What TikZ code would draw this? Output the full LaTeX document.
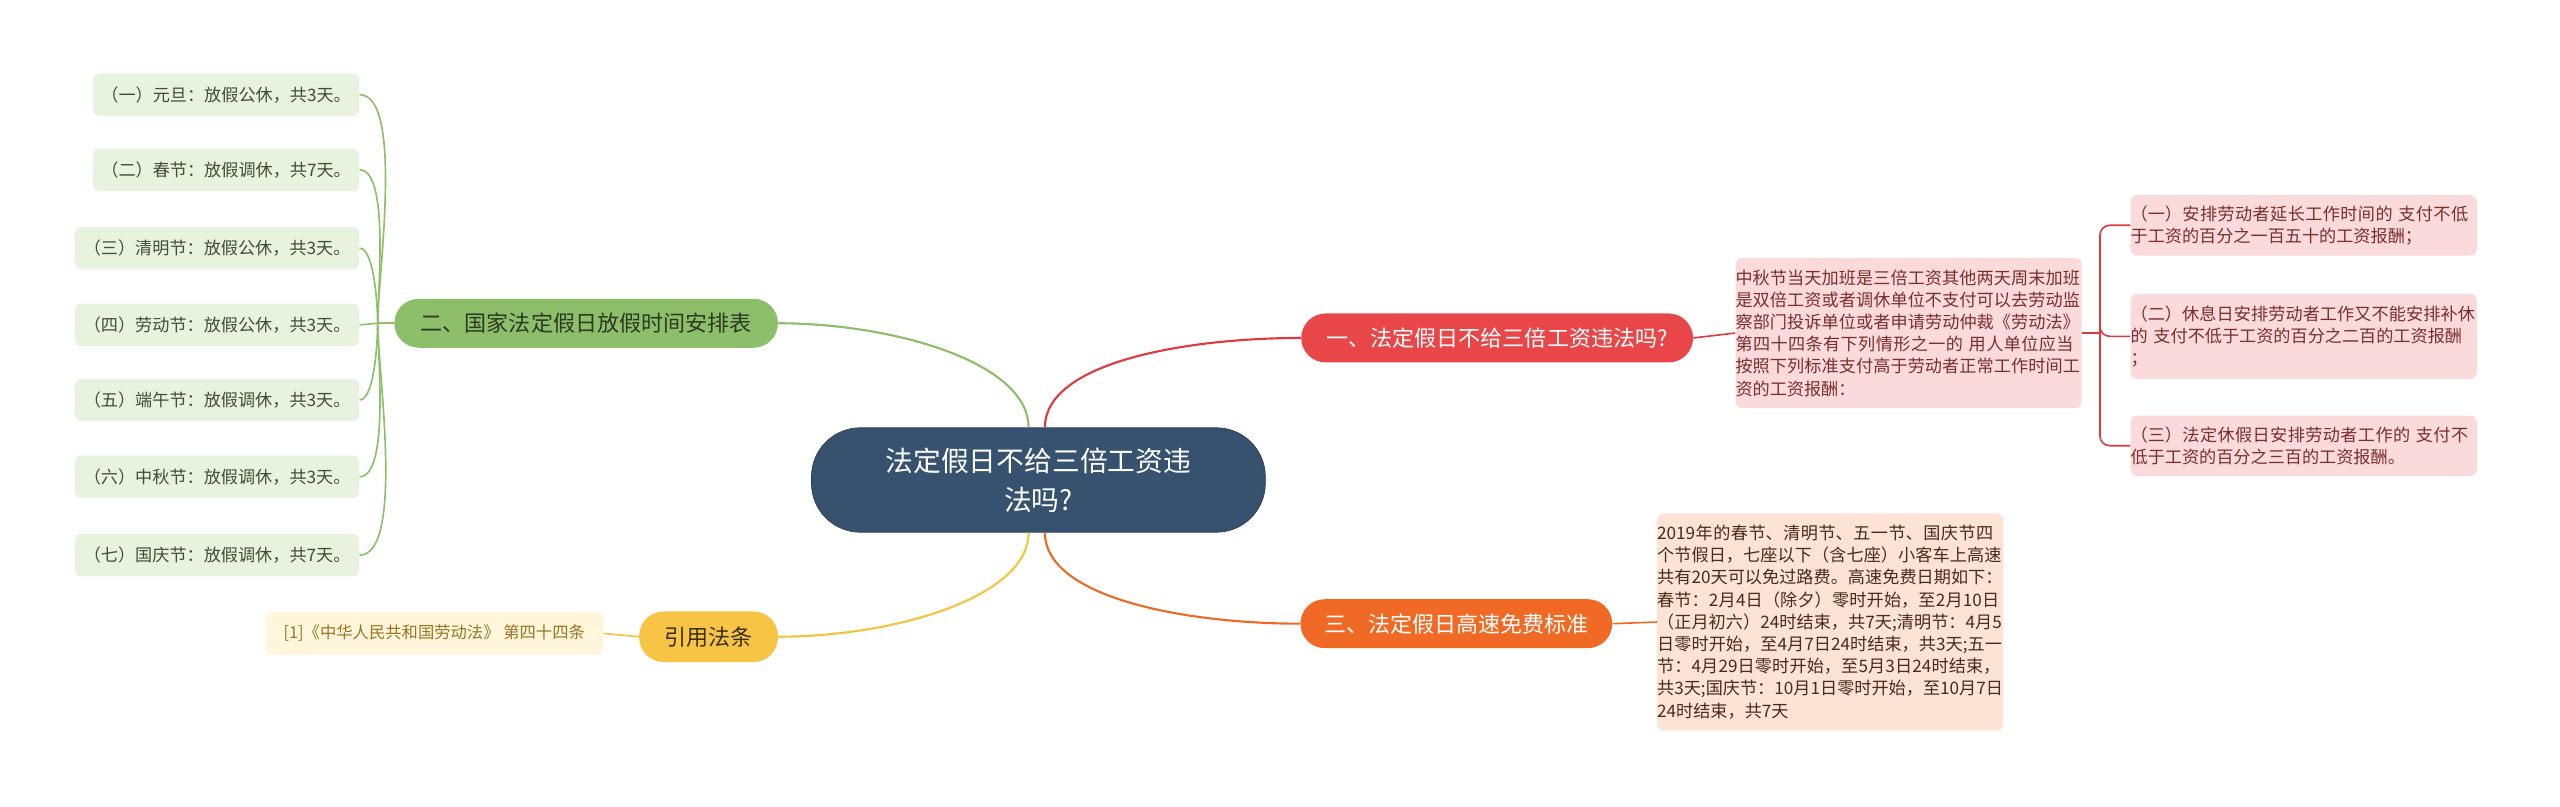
\documentclass[tikz,border=0pt]{standalone}
\usepackage{fontspec}
\setmainfont{Noto Sans CJK SC}
\XeTeXlinebreaklocale "zh"
\XeTeXlinebreakskip=0pt plus 1pt
\definecolor{leafbg}{HTML}{E7F2DF}\definecolor{leaftx}{HTML}{3E4F33}
\definecolor{gline}{HTML}{8DBE6A}\definecolor{rline}{HTML}{E0393E}
\definecolor{oline}{HTML}{EE6A24}\definecolor{yline}{HTML}{F5C242}
\definecolor{cfill}{HTML}{36526F}\definecolor{cdraw}{HTML}{2A3F56}
\definecolor{rfill}{HTML}{E84649}\definecolor{rbg}{HTML}{FADADB}\definecolor{rtx}{HTML}{7A2E2E}
\definecolor{ofill}{HTML}{F06A25}\definecolor{obg}{HTML}{FCE3D6}\definecolor{otx}{HTML}{4A2A18}
\definecolor{gtx}{HTML}{2B3A20}\definecolor{yfill}{HTML}{F8C445}\definecolor{ytx}{HTML}{3A2E10}
\definecolor{cbg}{HTML}{FFF6DC}\definecolor{ctx}{HTML}{9A7420}
\begin{document}
\begin{tikzpicture}[x=1pt,y=1pt,
  base/.style={inner sep=0pt,align=center},
  leaf/.style={base,fill=leafbg,rounded corners=4pt,minimum height=26pt,font=\fontsize{10.5}{13}\selectfont,text=leaftx},
  detail/.style={base,rounded corners=4pt,align=left,text width=212pt,font=\fontsize{10.5}{13.6}\selectfont},
  br/.style={base,rounded corners=15pt,minimum height=30pt,font=\fontsize{13.5}{16}\selectfont}]
\useasboundingbox (0,0) rectangle (1568,-494);
\node[base,fill=cfill,draw=cdraw,rounded corners=30pt,minimum width=278pt,minimum height=64pt,text=white,font=\fontsize{17}{24}\selectfont] (c) at (636,-294) {法定假日不给三倍工资违\\法吗?};
% red branch
\node[br,fill=rfill,text=white,minimum width=240pt] (r) at (917,-207) {一、法定假日不给三倍工资违法吗?};
\node[detail,fill=rbg,text=rtx,minimum height=92pt] (rd) at (1169,-204) {中秋节当天加班是三倍工资其他两天周末加班是双倍工资或者调休单位不支付可以去劳动监察部门投诉单位或者申请劳动仲裁《劳动法》第四十四条有下列情形之一的 用人单位应当按照下列标准支付高于劳动者正常工作时间工资的工资报酬：};
\node[detail,fill=rbg,text=rtx,minimum height=37pt] (r1) at (1411,-138) {（一）安排劳动者延长工作时间的 支付不低于工资的百分之一百五十的工资报酬；};
\node[detail,fill=rbg,text=rtx,minimum height=52pt] (r2) at (1411,-206) {（二）休息日安排劳动者工作又不能安排补休的 支付不低于工资的百分之二百的工资报酬\\；};
\node[detail,fill=rbg,text=rtx,minimum height=37pt] (r3) at (1411,-273) {（三）法定休假日安排劳动者工作的 支付不低于工资的百分之三百的工资报酬。};
% orange
\node[br,fill=ofill,text=white,minimum width=191pt] (o) at (892,-382) {三、法定假日高速免费标准};
\node[detail,fill=obg,text=otx,minimum height=133pt] (od) at (1121,-381) {2019年的春节、清明节、五一节、国庆节四个节假日，七座以下（含七座）小客车上高速共有20天可以免过路费。高速免费日期如下：春节：2月4日（除夕）零时开始，至2月10日（正月初六）24时结束，共7天;清明节：4月5日零时开始，至4月7日24时结束，共3天;五一节：4月29日零时开始，至5月3日24时结束，共3天;国庆节：10月1日零时开始，至10月7日24时结束，共7天};
% green
\node[br,fill=gline,text=gtx,minimum width=235pt] (g) at (359,-198) {二、国家法定假日放假时间安排表};
\node[leaf,minimum width=163pt] (l1) at (138.5,-58) {（一）元旦：放假公休，共3天。};
\node[leaf,minimum width=163pt] (l2) at (138.5,-104) {（二）春节：放假调休，共7天。};
\node[leaf,minimum width=174pt] (l3) at (133,-152) {（三）清明节：放假公休，共3天。};
\node[leaf,minimum width=174pt] (l4) at (133,-199) {（四）劳动节：放假公休，共3天。};
\node[leaf,minimum width=174pt] (l5) at (133,-245) {（五）端午节：放假调休，共3天。};
\node[leaf,minimum width=174pt] (l6) at (133,-292) {（六）中秋节：放假调休，共3天。};
\node[leaf,minimum width=174pt] (l7) at (133,-340) {（七）国庆节：放假调休，共7天。};
% yellow
\node[br,fill=yfill,text=ytx,minimum width=85pt,minimum height=31pt] (y) at (434,-390) {引用法条};
\node[base,fill=cbg,text=ctx,rounded corners=4pt,minimum width=207pt,minimum height=26pt,font=\fontsize{10}{12}\selectfont] (cit) at (266,-388) {[1]《中华人民共和国劳动法》 第四十四条};
% main connectors
\draw[gline,line width=1.3pt] ([xshift=-6pt]c.north) .. controls +(0,40) and +(70,0) .. (g.east);
\draw[yline,line width=1.3pt] ([xshift=-6pt]c.south) .. controls +(0,-40) and +(70,0) .. (y.east);
\draw[rline,line width=1.3pt] ([xshift=4pt]c.north) .. controls +(0,40) and +(-70,0) .. (r.west);
\draw[oline,line width=1.3pt] ([xshift=4pt]c.south) .. controls +(0,-40) and +(-70,0) .. (o.west);
\draw[rline,line width=1pt] (r.east) -- (rd.west);
\draw[oline,line width=1pt] (o.east) -- (od.west);
\draw[yline,line width=1pt] (y.west) -- (cit.east);
% green bracket
\coordinate (gb) at ([xshift=-10pt]g.west);
\draw[gline,line width=1pt] (g.west) -- (gb);
\foreach \l in {l1,l2,l3}{\draw[gline,line width=1pt] (gb) to[out=90,in=0,looseness=0.5] (\l.east);}
\foreach \l in {l5,l6,l7}{\draw[gline,line width=1pt] (gb) to[out=-90,in=0,looseness=0.5] (\l.east);}
\draw[gline,line width=1pt] (gb) -- (l4.east);
% red bracket
\coordinate (rb) at ([xshift=11pt]rd.east);
\draw[rline,line width=1pt] (rd.east) -- (rb);
\foreach \l in {r1,r2,r3}{\draw[rline,line width=1pt,rounded corners=6pt] (rb) |- (\l.west);}
\end{tikzpicture}
\end{document}
